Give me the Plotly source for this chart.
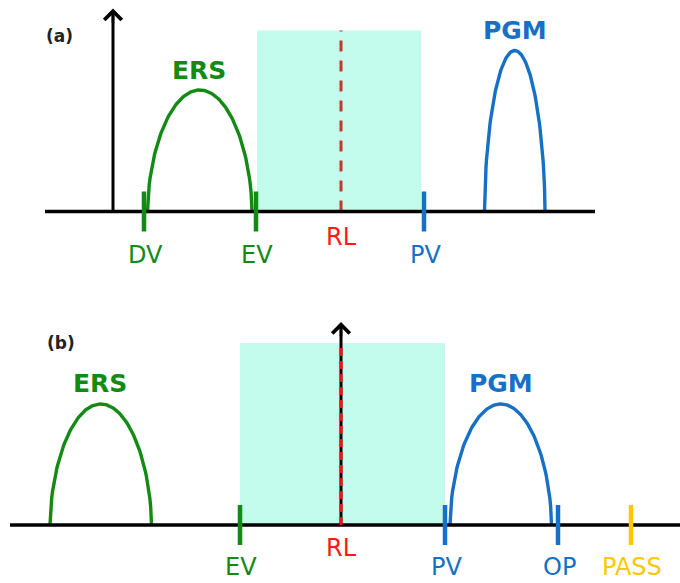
import numpy as np
import plotly.graph_objects as go

# ---- panel (a): quantities along the horizontal scale ----
a_axis_x = 113
a_line_x = [45, 595]
a_band_x = [257, 421]
a_band_top = 181
a_arrow_top = 203
a_rl_x = 341
a_marks = ["DV", "EV", "PV"]
a_marks_x = [144, 256, 424]
a_marks_color = ["green", "green", "blue"]
a_ers = [147.5, 252.0]
a_ers_height = 121.5
a_pgm = [484.5, 545.0]
a_pgm_height = 161

# ---- panel (b) ----
b_line_x = [10, 680]
b_band_x = [240, 445]
b_band_top = 182
b_arrow_top = 203
b_rl_x = 341
b_marks = ["EV", "PV", "OP", "PASS"]
b_marks_x = [240, 445, 558, 631]
b_marks_color = ["green", "blue", "blue", "gold"]
b_ers = [50.0, 151.5]
b_ers_height = 121
b_pgm = [450.0, 551.5]
b_pgm_height = 121

COL = {"green": "#138a13", "blue": "#1670c6", "gold": "#fcc800",
       "red": "#ff1a1a", "rl": "#c8372d", "band": "#c3fcec", "ink": "#000000"}
FONT = "DejaVu Sans"
TICK_HALF = 20


def arch(x0, x1, h, n=121):
    t = np.linspace(-1, 1, n)
    xs = (x0 + x1) / 2 + t * (x1 - x0) / 2
    ys = h * np.clip(1 - t ** 2, 0, None) ** 0.55
    return xs, ys


fig = go.Figure()


def line(xs, ys, color, width, ax, dash=None):
    fig.add_trace(go.Scatter(x=xs, y=ys, mode="lines", xaxis=ax[0], yaxis=ax[1],
                             line=dict(color=color, width=width, dash=dash),
                             hoverinfo="skip", showlegend=False))


def text(s, x, y, color, size, ax, bold=False):
    fig.add_annotation(x=x, y=y, xref=ax[0], yref=ax[1], text=f"<b>{s}</b>" if bold else s,
                       showarrow=False, font=dict(family=FONT, size=size, color=color),
                       xanchor="center", yanchor="middle")


def arrow(x, y_top, ax):
    # only the head is drawn as an annotation; the shaft is a trace
    fig.add_annotation(x=x, y=y_top, ax=x, ay=y_top - 16, xref=ax[0], yref=ax[1],
                       axref=ax[0], ayref=ax[1], text="", showarrow=True,
                       arrowhead=4, arrowsize=1.3, arrowwidth=2.6, arrowcolor=COL["ink"])


A = ("x", "y")
B = ("x2", "y2")

# ---------- panel (a) ----------
fig.add_shape(type="rect", xref="x", yref="y", x0=a_band_x[0], x1=a_band_x[1], y0=0, y1=a_band_top,
              fillcolor=COL["band"], line_width=0, layer="below")
line([a_rl_x, a_rl_x], [0, a_band_top], COL["rl"], 3, A, dash="11px,9px")
xs, ys = arch(*a_ers, a_ers_height)
line(xs, ys, COL["green"], 3.4, A)
xs, ys = arch(*a_pgm, a_pgm_height)
line(xs, ys, COL["blue"], 3.4, A)
line(a_line_x, [0, 0], COL["ink"], 3.5, A)
for name, mx, c in zip(a_marks, a_marks_x, a_marks_color):
    line([mx, mx], [-TICK_HALF, TICK_HALF], COL[c], 4.5, A)
    text(name, mx + 1, -43, COL[c], 24, A)
text("RL", a_rl_x, -25, COL["red"], 24, A)
text("ERS", 199, 141, COL["green"], 25, A, bold=True)
text("PGM", 515, 181, COL["blue"], 25, A, bold=True)
text("(a)", 59, 176, "#222222", 17, A, bold=True)
line([a_axis_x, a_axis_x], [0, a_arrow_top - 6], COL["ink"], 3, A)
arrow(a_axis_x, a_arrow_top, A)

# ---------- panel (b) ----------
fig.add_shape(type="rect", xref="x2", yref="y2", x0=b_band_x[0], x1=b_band_x[1], y0=0, y1=b_band_top,
              fillcolor=COL["band"], line_width=0, layer="below")
xs, ys = arch(*b_ers, b_ers_height)
line(xs, ys, COL["green"], 3.4, B)
xs, ys = arch(*b_pgm, b_pgm_height)
line(xs, ys, COL["blue"], 3.4, B)
line(b_line_x, [0, 0], COL["ink"], 3.5, B)
line([b_rl_x, b_rl_x], [0, b_arrow_top - 6], COL["ink"], 3, B)
line([b_rl_x, b_rl_x], [0, b_band_top], "#ff1010", 3, B, dash="8px,5px")
arrow(b_rl_x, b_arrow_top, B)
for name, mx, c in zip(b_marks, b_marks_x, b_marks_color):
    line([mx, mx], [-TICK_HALF, TICK_HALF], COL[c], 4.5, B)
    text(name, mx + 1, -42, COL[c], 24, B)
text("RL", b_rl_x, -23, COL["red"], 24, B)
text("ERS", 100, 142, COL["green"], 25, B, bold=True)
text("PGM", 501, 142, COL["blue"], 25, B, bold=True)
text("(b)", 61, 182, "#222222", 17, B, bold=True)

hidden = dict(visible=False, fixedrange=True)
fig.update_layout(
    width=680, height=583, margin=dict(l=0, r=0, t=0, b=0),
    paper_bgcolor="white", plot_bgcolor="white", showlegend=False,
    xaxis=dict(domain=[0, 1], range=[0, 680], anchor="y", **hidden),
    yaxis=dict(domain=[0.5, 1], range=[-80, 211.5], anchor="x", **hidden),
    xaxis2=dict(domain=[0, 1], range=[0, 680], anchor="y2", **hidden),
    yaxis2=dict(domain=[0, 0.5], range=[-58, 233.5], anchor="x2", **hidden),
)

fig.write_html("out.html")
